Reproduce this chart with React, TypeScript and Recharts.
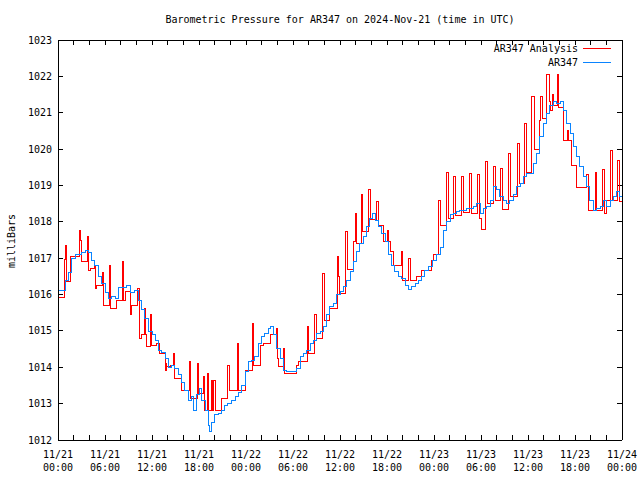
import React from "react";
import { LineChart, Line, XAxis, YAxis, ReferenceLine } from "recharts";

const TITLE = "Barometric Pressure for AR347 on 2024-Nov-21 (time in UTC)";
const FONT = "'DejaVu Sans Mono', 'Liberation Mono', monospace";

// hours since 2024-11-21 00:00 UTC
const xTicks = [0, 2, 4, 6, 8, 10, 12, 14, 16, 18, 20, 22, 24, 26, 28, 30, 32, 34, 36, 38, 40, 42, 44, 46, 48, 50, 52, 54, 56, 58, 60, 62, 64, 66, 68, 70, 72];
const yTicks = [1012, 1013, 1014, 1015, 1016, 1017, 1018, 1019, 1020, 1021, 1022, 1023];
const dayLabels = ["11/21", "11/22", "11/23", "11/24"];

// AR347 (station)
const blueHours = [
  0, 0.9, 1.3, 1.75, 2.2, 2.6, 3.0, 3.45, 3.9, 4.3, 4.7, 5.15, 5.6, 6.0, 6.4, 6.85, 7.3, 7.7, 8.3, 8.8,
  9.2, 9.8, 10.25, 10.7, 11.1, 11.5, 12.0, 12.4, 12.8, 13.2, 13.7, 14.1, 14.5, 14.9, 15.4, 15.8, 16.2, 16.6, 17.1, 17.3,
  17.7, 18.0, 18.35, 18.8, 19.2, 19.3, 19.6, 20.0, 20.5, 20.9, 21.3, 21.7, 22.2, 22.6, 23.0, 23.45, 23.9, 24.3, 24.7, 25.1,
  25.6, 26.0, 26.4, 26.85, 27.1, 27.5, 27.9, 28.35, 28.8, 29.2, 29.6, 30.0, 30.5, 30.9, 31.3, 31.75, 32.2, 32.6, 33.0, 33.45,
  33.9, 34.3, 34.7, 35.15, 35.6, 36.0, 36.4, 36.85, 37.3, 37.7, 38.1, 38.55, 39.0, 39.4, 39.8, 40.2, 40.5, 40.9, 41.3, 41.75,
  42.2, 42.6, 43.0, 43.45, 43.9, 44.3, 44.7, 45.15, 45.6, 46.0, 46.4, 46.85, 47.3, 47.8, 48.3, 48.8, 49.2, 49.6, 50.05, 50.5,
  50.9, 51.3, 51.75, 52.2, 52.6, 53.0, 53.45, 53.9, 54.3, 54.7, 55.15, 55.6, 56.0, 56.4, 56.85, 57.3, 57.7, 58.1, 58.55, 59.0,
  59.4, 59.8, 60.3, 60.7, 61.1, 61.5, 61.95, 62.4, 62.8, 63.2, 63.65, 64.1, 64.5, 64.9, 65.4, 65.8, 66.2, 66.6, 67.1, 67.5,
  67.9, 68.3, 68.8, 69.2, 69.6, 70.0, 70.5, 70.9, 71.3, 71.7, 72,
];
const blueValues = [
  1016.1, 1016.4, 1016.6, 1017.0, 1017.1, 1017.1, 1017.15, 1017.2, 1017.15, 1016.95, 1016.8, 1016.5, 1016.3, 1016.05, 1015.9, 1015.95, 1015.9, 1016.2, 1016.2, 1016.25,
  1016.05, 1016.1, 1015.85, 1015.6, 1015.35, 1014.98, 1014.9, 1014.75, 1014.47, 1014.4, 1014.25, 1014.0, 1014.06, 1013.98, 1013.8, 1013.57, 1013.37, 1013.1, 1013.2, 1012.82,
  1013.24, 1013.43, 1013.1, 1012.82, 1012.41, 1012.23, 1012.47, 1012.7, 1012.74, 1012.82, 1012.96, 1013.0, 1013.1, 1013.19, 1013.3, 1013.5, 1013.88, 1014.15, 1014.2, 1014.29,
  1014.66, 1014.84, 1014.94, 1015.07, 1015.11, 1014.89, 1014.52, 1014.25, 1013.92, 1013.88, 1013.88, 1013.88, 1013.98, 1014.29, 1014.39, 1014.47, 1014.66, 1014.75, 1014.93, 1014.98,
  1015.11, 1015.44, 1015.67, 1015.76, 1015.99, 1016.08, 1016.22, 1016.4, 1016.63, 1016.9, 1017.18, 1017.41, 1017.59, 1017.87, 1018.1, 1018.23, 1018.05, 1017.87, 1017.68, 1017.45,
  1017.09, 1016.81, 1016.63, 1016.5, 1016.45, 1016.26, 1016.13, 1016.22, 1016.31, 1016.4, 1016.5, 1016.67, 1016.78, 1016.95, 1017.09, 1017.3, 1017.77, 1018.0, 1018.19, 1018.23,
  1018.28, 1018.32, 1018.32, 1018.37, 1018.37, 1018.42, 1018.51, 1018.23, 1018.37, 1018.42, 1018.6, 1018.97, 1018.88, 1018.69, 1018.6, 1018.51, 1018.6, 1018.74, 1018.97, 1019.06,
  1019.24, 1019.33, 1019.33, 1019.61, 1019.88, 1020.34, 1020.71, 1020.98, 1021.21, 1021.3, 1021.26, 1021.3, 1021.07, 1020.71, 1020.43, 1020.07, 1019.79, 1019.52, 1019.24, 1018.97,
  1018.6, 1018.32, 1018.37, 1018.42, 1018.6, 1018.42, 1018.6, 1018.69, 1018.83, 1018.69, 1018.7,
];

// AR347 Analysis
const redHours = [
  0, 0.85, 0.95, 1.1, 1.6, 2.7, 2.85, 2.95, 3.8, 3.95, 4.1, 4.65, 4.8, 4.95, 5.65, 5.8, 6.6, 6.75, 7.5, 8.2,
  8.35, 8.6, 9.2, 9.4, 10.2, 10.35, 10.7, 11.05, 11.2, 11.3, 11.75, 11.95, 12.6, 13.0, 13.7, 13.8, 13.9, 14.3, 14.75, 14.85,
  15.8, 16.8, 16.95, 17.75, 17.9, 18.6, 18.75, 19.05, 19.2, 19.6, 19.75, 19.9, 20.05, 20.9, 21.7, 21.95, 22.9, 23.05, 23.9, 24.8,
  24.95, 25.8, 26.2, 27.1, 27.85, 28.0, 28.2, 28.8, 28.95, 30.5, 30.7, 31.8, 31.95, 32.8, 33.0, 33.8, 34.0, 34.7, 35.7, 35.85,
  35.95, 36.7, 36.9, 37.7, 38.0, 38.1, 38.7, 38.9, 39.7, 39.85, 40.7, 40.9, 41.6, 42.1, 42.2, 42.5, 42.8, 43.85, 44.0, 44.8,
  44.95, 45.8, 46.4, 47.7, 47.9, 48.6, 48.8, 49.55, 49.8, 50.55, 50.8, 51.55, 51.8, 52.55, 52.8, 53.5, 53.75, 54.0, 54.55, 54.8,
  55.6, 55.9, 56.55, 56.8, 57.55, 57.8, 58.6, 58.9, 59.6, 59.85, 60.5, 60.8, 61.5, 61.65, 61.8, 62.4, 62.7, 62.85, 63.15, 63.3,
  63.75, 63.95, 64.5, 65.0, 65.15, 65.5, 66.2, 67.5, 67.75, 68.6, 68.8, 69.55, 69.75, 70.0, 70.5, 70.75, 71.4, 71.65, 72,
];
const redValues = [
  1015.92, 1016.97, 1017.36, 1016.35, 1017.05, 1017.77, 1017.5, 1016.9, 1017.61, 1016.67, 1016.72, 1016.8, 1016.17, 1016.26, 1016.6, 1015.71, 1016.81, 1015.62, 1015.85, 1016.9,
  1015.85, 1016.08, 1015.44, 1015.71, 1016.17, 1014.8, 1014.89, 1015.62, 1014.89, 1014.58, 1015.45, 1014.61, 1014.66, 1014.38, 1013.92, 1014.1, 1014.02, 1014.06, 1014.38, 1013.7,
  1013.37, 1014.15, 1013.14, 1014.1, 1013.28, 1013.74, 1012.82, 1013.83, 1012.82, 1013.65, 1012.82, 1013.65, 1012.82, 1013.14, 1014.06, 1013.37, 1014.66, 1013.37, 1013.92, 1015.21,
  1014.06, 1014.61, 1014.66, 1014.89, 1015.07, 1014.25, 1014.02, 1014.52, 1013.83, 1014.06, 1014.15, 1015.12, 1014.38, 1015.44, 1014.8, 1016.58, 1015.3, 1015.62, 1017.04, 1016.5,
  1016.03, 1017.73, 1016.7, 1017.45, 1018.23, 1017.4, 1018.74, 1017.73, 1018.88, 1018.07, 1018.55, 1017.91, 1017.45, 1017.75, 1017.45, 1017.18, 1016.81, 1017.18, 1016.4, 1017.0,
  1016.4, 1016.49, 1016.65, 1016.95, 1017.09, 1018.6, 1017.9, 1019.35, 1018.1, 1019.24, 1018.18, 1019.24, 1018.26, 1019.33, 1018.23, 1019.29, 1018.1, 1017.8, 1019.65, 1018.5,
  1019.52, 1018.6, 1019.47, 1018.35, 1019.88, 1018.69, 1020.16, 1019.06, 1020.71, 1019.35, 1021.44, 1020.0, 1020.8, 1021.44, 1020.85, 1022.04, 1021.3, 1021.07, 1021.5, 1021.2,
  1022.04, 1021.15, 1020.25, 1020.5, 1020.25, 1019.56, 1018.95, 1019.3, 1018.3, 1019.35, 1018.3, 1019.43, 1018.23, 1018.6, 1019.95, 1018.6, 1019.7, 1018.55, 1018.55,
];

const blueData = blueHours.map((h, i) => ({ h, v: blueValues[i] }));
const redData = redHours.map((h, i) => ({ h, v: redValues[i] }));

const RED = "#ff0000";
const BLUE = "#0a84ff";
const X_MIN = 0;
const X_MAX = 72;
const Y_MIN = 1012;
const Y_MAX = 1023;
// inward tick length for the mirrored top/right ticks, in data units (~5px)
const TICK_DX = 0.64;
const TICK_DY = 0.14;

function XTick(props: any) {
  const { x, y, payload } = props;
  const h = payload.value;
  if (h % 6 !== 0) return <g />;
  const day = dayLabels[Math.floor(h / 24)];
  const hour = String(h % 24).padStart(2, "0") + ":00";
  return (
    <text x={x} y={y} textAnchor="middle" fontFamily={FONT} fontSize={10} fill="#000">
      <tspan x={x} dy={13}>{day}</tspan>
      <tspan x={x} dy={13}>{hour}</tspan>
    </text>
  );
}

const legendItems = [
  { label: "AR347 Analysis", color: RED },
  { label: "AR347", color: BLUE },
];

export default function App() {
  return (
    <div style={{ position: "absolute", left: 0, top: 0, width: 640, height: 480, background: "#fff" }}>
      <div style={{ position: "absolute", left: 58, top: 14, width: 564, textAlign: "center", fontFamily: FONT, fontSize: 10, whiteSpace: "nowrap" }}>
        {TITLE}
      </div>
      <div style={{ position: "absolute", left: 11, top: 241, transform: "translate(-50%, -50%) rotate(-90deg)", fontFamily: FONT, fontSize: 10, whiteSpace: "nowrap" }}>
        milliBars
      </div>
      <LineChart width={640} height={480} margin={{ top: 40, right: 18, bottom: 0, left: 0 }}>
        <XAxis
          dataKey="h"
          type="number"
          domain={[X_MIN, X_MAX]}
          ticks={xTicks}
          interval={0}
          allowDataOverflow
          height={40}
          tickSize={-5}
          tickMargin={10}
          tick={<XTick />}
          axisLine={{ stroke: "#000", shapeRendering: "crispEdges" }}
          tickLine={{ stroke: "#000", shapeRendering: "crispEdges" }}
        />
        <YAxis
          type="number"
          domain={[Y_MIN, Y_MAX]}
          ticks={yTicks}
          interval={0}
          allowDataOverflow
          width={58}
          tickSize={-5}
          tickMargin={11}
          tick={{ fontSize: 10, fill: "#000", fontFamily: FONT }}
          axisLine={{ stroke: "#000", shapeRendering: "crispEdges" }}
          tickLine={{ stroke: "#000", shapeRendering: "crispEdges" }}
        />
        {/* top and right border with mirrored ticks */}
        <ReferenceLine y={Y_MAX} stroke="#000" ifOverflow="visible" shapeRendering="crispEdges" />
        <ReferenceLine x={X_MAX} stroke="#000" ifOverflow="visible" shapeRendering="crispEdges" />
        {xTicks.map((h) => (
          <ReferenceLine
            key={`tt${h}`}
            segment={[{ x: h, y: Y_MAX }, { x: h, y: Y_MAX - TICK_DY }]}
            stroke="#000"
            shapeRendering="crispEdges"
            ifOverflow="visible"
          />
        ))}
        {yTicks.map((v) => (
          <ReferenceLine
            key={`rt${v}`}
            segment={[{ x: X_MAX, y: v }, { x: X_MAX - TICK_DX, y: v }]}
            stroke="#000"
            shapeRendering="crispEdges"
            ifOverflow="visible"
          />
        ))}
        <Line
          data={redData}
          dataKey="v"
          name="AR347 Analysis"
          type="stepAfter"
          stroke={RED}
          strokeWidth={1}
          shapeRendering="crispEdges"
          dot={false}
          isAnimationActive={false}
        />
        <Line
          data={blueData}
          dataKey="v"
          name="AR347"
          type="stepAfter"
          stroke={BLUE}
          strokeWidth={1}
          shapeRendering="crispEdges"
          dot={false}
          isAnimationActive={false}
        />
      </LineChart>
      <svg width={640} height={80} style={{ position: "absolute", left: 0, top: 0 }}>
        {legendItems.map((item, i) => (
          <g key={item.label}>
            <text x={578} y={52 + i * 14} textAnchor="end" fontFamily={FONT} fontSize={10} fill="#000">
              {item.label}
            </text>
            <line x1={583} x2={611} y1={48.5 + i * 14} y2={48.5 + i * 14} stroke={item.color} strokeWidth={1} shapeRendering="crispEdges" />
          </g>
        ))}
      </svg>
    </div>
  );
}
